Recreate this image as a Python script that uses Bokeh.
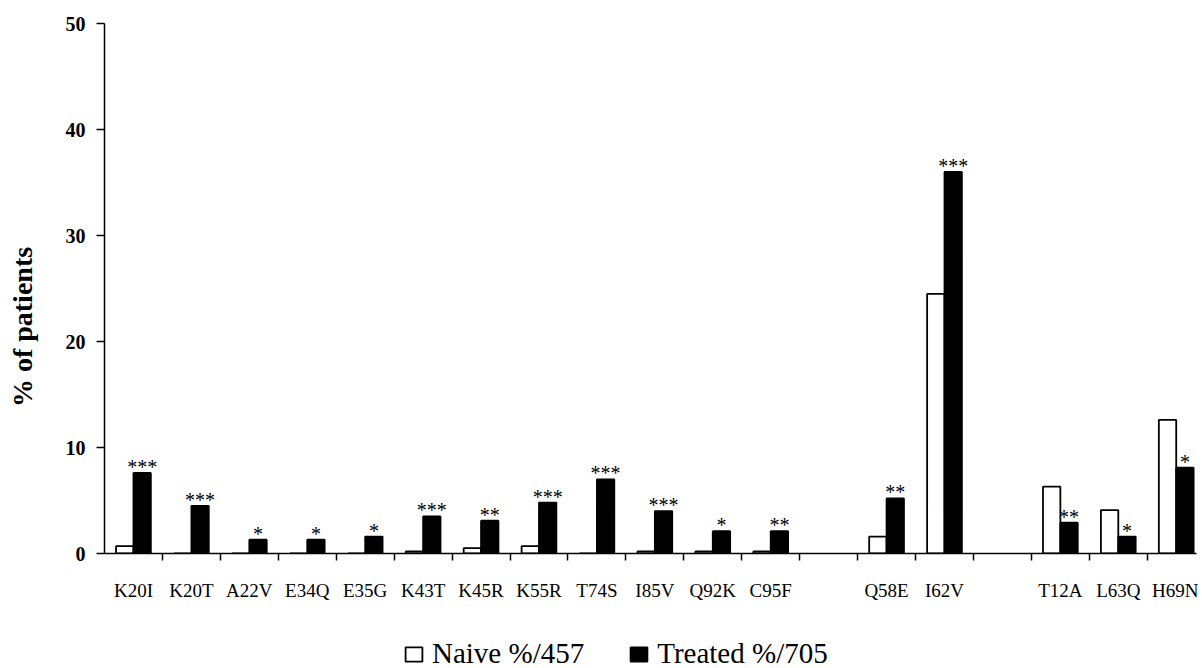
from bokeh.plotting import figure
from bokeh.layouts import column
from bokeh.models import (Range1d, FixedTicker, Legend, LegendItem, ColumnDataSource,
                          BoxAnnotation)
from bokeh.core.properties import value
from bokeh.embed import file_html
from bokeh.resources import INLINE

# ---- data ----
group1 = ["K20I", "K20T", "A22V", "E34Q", "E35G", "K43T", "K45R", "K55R",
          "T74S", "I85V", "Q92K", "C95F"]
group2 = ["Q58E", "I62V"]
group3 = ["T12A", "L63Q", "H69N"]
naive = [0.7, 0.0, 0.0, 0.0, 0.0, 0.2, 0.5, 0.7, 0.0, 0.2, 0.2, 0.2,
         1.6, 24.5,
         6.3, 4.1, 12.6]
treated = [7.6, 4.5, 1.3, 1.3, 1.6, 3.5, 3.1, 4.8, 7.0, 4.0, 2.1, 2.1,
           5.2, 36.0,
           2.9, 1.6, 8.1]
signif = ["***", "***", "*", "*", "*", "***", "**", "***", "***", "***", "*", "**",
          "**", "***",
          "**", "*", "*"]
y_ticks = [0, 10, 20, 30, 40, 50]
legend_labels = ["Naive %/457", "Treated %/705"]
y_title = "% of patients"

# ---- slot positions (one empty slot between groups) ----
names, slots = [], []
pos = 0
for g in (group1, group2, group3):
    for c in g:
        names.append(c)
        slots.append(pos)
        pos += 1
    pos += 1

src = ColumnDataSource(dict(
    name=names,
    xn=[s + 0.35 for s in slots],
    xt=[s + 0.65 for s in slots],
    naive=naive,
    treated=treated,
    sig=signif,
))

SERIF = "Liberation Serif"
W = 1198

p = figure(width=W, height=613,
           x_range=Range1d(0, 18.85), y_range=Range1d(0, 50),
           min_border_left=104, min_border_right=2,
           min_border_top=23, min_border_bottom=60,
           output_backend="svg", toolbar_location=None)
p.outline_line_color = None
p.grid.visible = False
p.background_fill_color = "white"

bar_naive = dict(fill_color="white", line_color="black", line_width=1.8)
bar_treated = dict(fill_color="black", line_color="black", line_width=1.8)

rn = p.vbar(x="xn", top="naive", bottom=0, width=0.3, source=src, **bar_naive)
rt = p.vbar(x="xt", top="treated", bottom=0, width=0.3, source=src, **bar_treated)

p.text(x="xt", y="treated", text="sig", source=src,
       text_align="center", text_baseline="alphabetic", y_offset=-6,
       text_font=value(SERIF), text_font_size="20px", text_color="black")

# x axis: labels at slot centres, small ticks at slot boundaries
centers = [s + 0.5 for s in slots]
p.xaxis.ticker = FixedTicker(ticks=centers, minor_ticks=list(range(1, 19)))
p.xaxis.major_label_overrides = {c: n for c, n in zip(centers, names)}
p.xaxis.major_tick_line_color = None
p.xaxis.major_tick_out = 0
p.xaxis.major_tick_in = 0
p.xaxis.minor_tick_out = 7
p.xaxis.minor_tick_in = 0
p.xaxis.minor_tick_line_color = "black"
p.xaxis.minor_tick_line_width = 1.5
p.xaxis.axis_line_color = "black"
p.xaxis.axis_line_width = 1.5
p.xaxis.major_label_standoff = 19
p.xaxis.major_label_text_font = SERIF
p.xaxis.major_label_text_font_size = "19px"
p.xaxis.major_label_text_color = "black"

# y axis
p.yaxis.ticker = FixedTicker(ticks=y_ticks)
p.yaxis.minor_tick_line_color = None
p.yaxis.major_tick_out = 8
p.yaxis.major_tick_in = 0
p.yaxis.major_tick_line_color = "black"
p.yaxis.major_tick_line_width = 1.5
p.yaxis.axis_line_color = "black"
p.yaxis.axis_line_width = 1.5
p.yaxis.major_label_standoff = 11
p.yaxis.major_label_text_font = SERIF
p.yaxis.major_label_text_font_style = "bold"
p.yaxis.major_label_text_font_size = "20px"
p.yaxis.major_label_text_color = "black"
p.yaxis.axis_label = y_title + "\u00a0" * 11
p.yaxis.axis_label_text_font = SERIF
p.yaxis.axis_label_text_font_style = "bold"
p.yaxis.axis_label_text_font_size = "28px"
p.yaxis.axis_label_text_color = "black"
p.yaxis.axis_label_standoff = 25

# ---- legend strip below the chart: legend renderers share the bar styles;
#      a white box hides them so only the legend swatches show ----
p2 = figure(width=W, height=55, x_range=Range1d(0, 18.85), y_range=Range1d(0, 50),
            min_border=0, output_backend="svg", toolbar_location=None)
p2.axis.visible = False
p2.grid.visible = False
p2.outline_line_color = None
ln = p2.vbar(x="xn", top="naive", bottom=0, width=0.3, source=src, **bar_naive)
lt = p2.vbar(x="xt", top="treated", bottom=0, width=0.3, source=src, **bar_treated)
p2.add_layout(BoxAnnotation(fill_color="white", fill_alpha=1.0, line_color=None))
legend = Legend(items=[LegendItem(label=legend_labels[0], renderers=[ln]),
                       LegendItem(label=legend_labels[1], renderers=[lt])],
                location=(299, -2), orientation="horizontal",
                border_line_color=None, background_fill_alpha=0,
                padding=0, margin=0, spacing=44, label_standoff=8,
                glyph_width=21, glyph_height=18,
                label_text_font=SERIF, label_text_font_size="29px",
                label_text_color="black")
p2.add_layout(legend)

open("out.html", "w").write(file_html(column(p, p2, spacing=0), INLINE))
